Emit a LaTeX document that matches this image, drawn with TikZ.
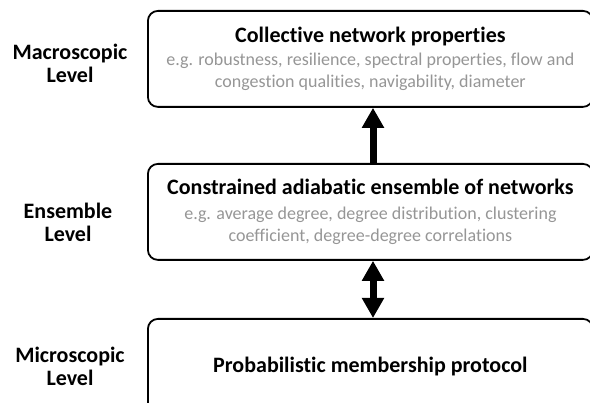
\documentclass[tikz,border=0pt]{standalone}
\usepackage{fontspec}
\setmainfont{Carlito}[Ligatures=NoCommon]
\usetikzlibrary{arrows.meta}
\definecolor{subgray}{RGB}{150,150,150}
\begin{document}
\begin{tikzpicture}[x=1pt,y=-1pt,
  levelbox/.style={draw=black, line width=1.8pt, rounded corners=10pt,
    minimum width=445pt, minimum height=96pt, anchor=north west,
    align=center, inner sep=0pt, text=subgray,
    font=\fontsize{18}{22}\selectfont},
  levellabel/.style={font=\bfseries\fontsize{22}{23}\selectfont, align=center, inner sep=0pt},
  bigarrow/.style={line width=7pt, -{Triangle[width=21pt,length=20pt]}},
  bigdarrow/.style={line width=7pt, {Triangle[width=21pt,length=20pt]}-{Triangle[width=21pt,length=20pt]}},
]
\clip (0,0) rectangle (590,403);
\fill[white] (0,0) rectangle (590,403);

\node[levelbox] (box1) at (147,10) {{\color{black}\bfseries\fontsize{22}{22}\selectfont Collective network properties}\\[1pt]
  e.g. robustness, resilience, spectral properties, flow and\\
  congestion qualities, navigability, diameter};
\node[levelbox] (box2) at (147,163) {{\color{black}\bfseries\fontsize{22}{22}\selectfont Constrained adiabatic ensemble of networks}\\[3pt]
  e.g. average degree, degree distribution, clustering\\
  coefficient, degree-degree correlations};
\node[levelbox] (box3) at (147,318) {{\color{black}\bfseries\fontsize{22}{22}\selectfont Probabilistic membership protocol}};

\node[levellabel] (lab1) at (70,63) {Macroscopic\\Level};
\node[levellabel] (lab2) at (68,222) {Ensemble\\Level};
\node[levellabel] (lab3) at (70,366) {Microscopic\\Level};

\coordinate (ax) at (373,0);
\draw[bigarrow] (ax |- box2.north) -- (ax |- box1.south);
\draw[bigdarrow] (ax |- box2.south) -- (ax |- box3.north);
\end{tikzpicture}
\end{document}
